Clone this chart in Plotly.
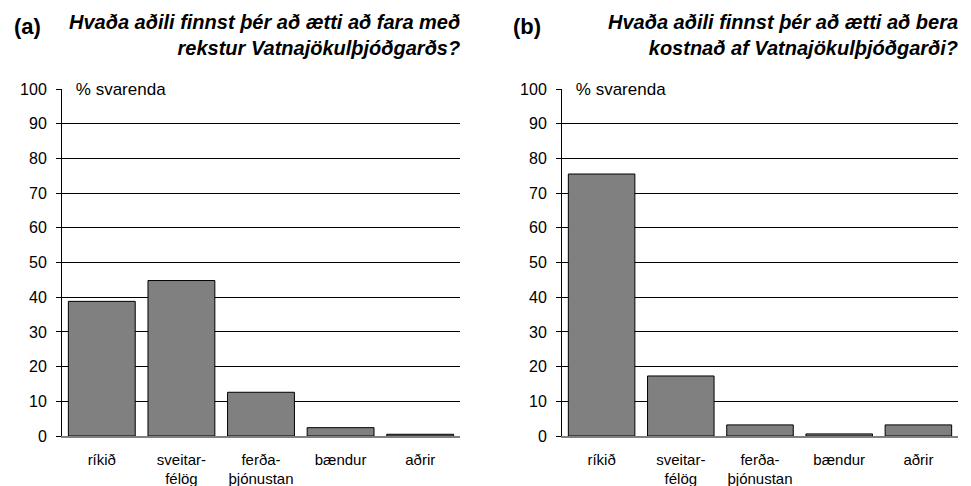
import plotly.graph_objects as go
from plotly.subplots import make_subplots

# Data
categories = ["ríkið", "sveitar-<br>félög", "ferða-<br>þjónustan", "bændur", "aðrir"]
rekstur = [38.8, 44.8, 12.6, 2.4, 0.5]      # (a) hver á að fara með rekstur
kostnadur = [75.5, 17.3, 3.2, 0.6, 3.2]      # (b) hver á að bera kostnað
y_ticks = [0, 10, 20, 30, 40, 50, 60, 70, 80, 90, 100]

titles = [
    "Hvaða aðili finnst þér að ætti að fara með<br>rekstur Vatnajökulþjóðgarðs?",
    "Hvaða aðili finnst þér að ætti að bera<br>kostnað af Vatnajökulþjóðgarði?",
]
panel_labels = ["(a)", "(b)"]

W, H = 971, 486
T, B = 89, 50
PH = H - T - B
FONT = "Liberation Sans, Arial, sans-serif"

fig = make_subplots(rows=1, cols=2)

for i, vals in enumerate([rekstur, kostnadur]):
    fig.add_trace(go.Bar(
        x=categories, y=vals,
        marker=dict(color="#808080", line=dict(color="#000000", width=1)),
        showlegend=False, hoverinfo="skip",
    ), row=1, col=i + 1)

# Panel placement in pixels
domains = [(62 / W, 460 / W), (562 / W, 958 / W)]
axis_common_x = dict(
    showline=True, linecolor="#808080", linewidth=1.5,
    showgrid=False, zeroline=False, ticks="",
    ticklabelstandoff=9,
    tickfont=dict(family=FONT, size=15, color="#000"),
    fixedrange=True,
)
axis_common_y = dict(
    range=[0, 100], tickvals=y_ticks,
    showline=True, linecolor="#000", linewidth=1,
    ticks="outside", ticklen=5, tickcolor="#000", tickwidth=1,
    ticklabelstandoff=6,
    showgrid=True, gridcolor="#000", gridwidth=1,
    zeroline=False,
    tickfont=dict(family=FONT, size=16, color="#000"),
    fixedrange=True,
)

fig.update_layout(
    xaxis=dict(domain=list(domains[0]), **axis_common_x),
    xaxis2=dict(domain=list(domains[1]), **axis_common_x),
    yaxis=dict(**axis_common_y),
    yaxis2=dict(**axis_common_y),
    bargap=0.16,
    width=W, height=H,
    margin=dict(l=0, r=0, t=T, b=B, autoexpand=False),
    plot_bgcolor="white", paper_bgcolor="white",
)


def py(px):
    # pixel y from top of figure -> paper y
    return (H - B - px) / PH


annotations = []
label_x = [27, 526.5]
for i in range(2):
    left, right = domains[i]
    annotations.append(dict(
        text="<b>" + panel_labels[i] + "</b>", xref="paper", yref="paper",
        x=label_x[i] / W, y=py(27), xanchor="center", yanchor="middle",
        showarrow=False, font=dict(family=FONT, size=22, color="#000"),
    ))
    annotations.append(dict(
        text="<b><i>" + titles[i] + "</i></b>", xref="paper", yref="paper",
        x=right + 2 / W, y=py(9), xanchor="right", yanchor="top", align="right",
        showarrow=False, font=dict(family=FONT, size=20, color="#000"),
    ))
    # unit label sitting on the top gridline
    annotations.append(dict(
        text="% svarenda", xref="paper", yref="y" if i == 0 else "y2",
        x=left + 5 / W, y=100, xanchor="left", yanchor="middle",
        width=106, align="center", bgcolor="white", borderpad=0,
        showarrow=False, font=dict(family=FONT, size=17, color="#000"),
    ))
fig.update_layout(annotations=annotations)

fig.write_html("out.html", config={"displayModeBar": False},
               post_script="document.body.style.margin='0';")
